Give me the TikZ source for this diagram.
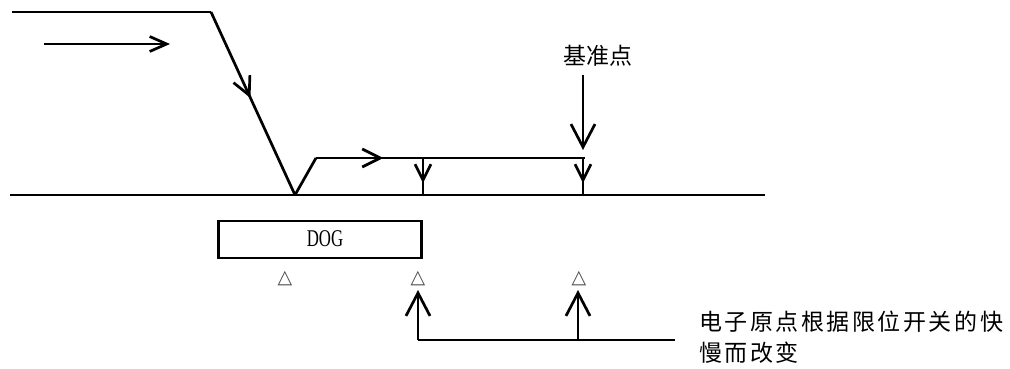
\documentclass[tikz,border=0pt]{standalone}
\usepackage{fontspec}
\setmainfont{Liberation Serif}
\newfontfamily\cjk{Noto Sans CJK SC}
\newfontfamily\cjkwide[LetterSpace=11]{Noto Sans CJK SC}
\newfontfamily\symfont{DejaVu Sans}
\usetikzlibrary{arrows.meta,decorations.markings}
\tikzset{
  ln/.style={line width=2.7pt},
  bigtip/.style={-{Straight Barb[length=23pt,width=24pt,line width=2.7pt]}},
  headtip/.style={-{Straight Barb[length=17pt,width=15pt,line width=2.7pt]}},
  midarrow/.style 2 args={postaction={decorate},decoration={markings,
    mark=at position #1 with {\arrow{Straight Barb[length=#2pt,width=#2pt,line width=2.7pt]}}}},
  tri/.style={font=\symfont\fontsize{19}{19}\selectfont, text=black!70, inner sep=0pt},
  lbl/.style={font=\cjk\fontsize{23}{23}\selectfont, inner sep=0pt},
}
\begin{document}
\begin{tikzpicture}[x=1pt,y=-1pt]
\useasboundingbox (0,0) rectangle (1010,369);
% coordinates
\coordinate (t0) at (12,12);
\coordinate (t1) at (211,12);
\coordinate (v) at (295,195);
\coordinate (v2) at (316,158);
\coordinate (h1) at (585,158);
\coordinate (b0) at (10,195);
\coordinate (b1) at (765,195);
\coordinate (a0) at (44,44);
\coordinate (a1) at (170,44);
\coordinate (d1top) at (423,158);
\coordinate (d1bot) at (423,195);
\coordinate (d2top) at (583,158);
\coordinate (d2bot) at (583,195);
\coordinate (r0) at (583,75);
\coordinate (r1) at (583,150);
\coordinate (u1b) at (418,340);
\coordinate (u1t) at (418,290);
\coordinate (u2b) at (578,340);
\coordinate (u2t) at (578,290);
\coordinate (e1) at (675,340);

% top path
\draw[ln,line join=miter] (t0) -- (t1);
\draw[ln,midarrow={0.47}{18}] (t1) -- (v);
\draw[ln] (v) -- (v2);
\draw[ln,midarrow={0.25}{18}] (v2) -- (h1);
\draw[ln] (b0) -- (b1);
\draw[ln,headtip] (a0) -- (a1);
\draw[ln,midarrow={0.68}{16}] (d1top) -- (d1bot);
\draw[ln,midarrow={0.68}{16}] (d2top) -- (d2bot);

% reference point
\node[lbl] (ref) at (598,56) {基准点};
\draw[ln,bigtip] (r0) -- (r1);

% DOG
\node[draw,line width=2.7pt,minimum width=203pt,minimum height=37pt,inner sep=0pt] (dog) at (320,239.5) {};
\node[font=\fontsize{24}{24}\selectfont,xscale=0.7,inner sep=0pt] (dogt) at (325,239) {DOG};

% triangles
\node[tri] (tr1) at (285,279) {△};
\node[tri] (tr2) at (418,279) {△};
\node[tri] (tr3) at (579,279) {△};

% bottom
\draw[ln,bigtip] (u1b) -- (u1t);
\draw[ln,bigtip] (u2b) -- (u2t);
\draw[ln] (u1b) -- (e1);

\node[font=\cjkwide\fontsize{23}{31}\selectfont,align=left,anchor=north west,inner sep=0pt] (note) at (699,311) {电子原点根据限位开关的快\\慢而改变};
\end{tikzpicture}
\end{document}
